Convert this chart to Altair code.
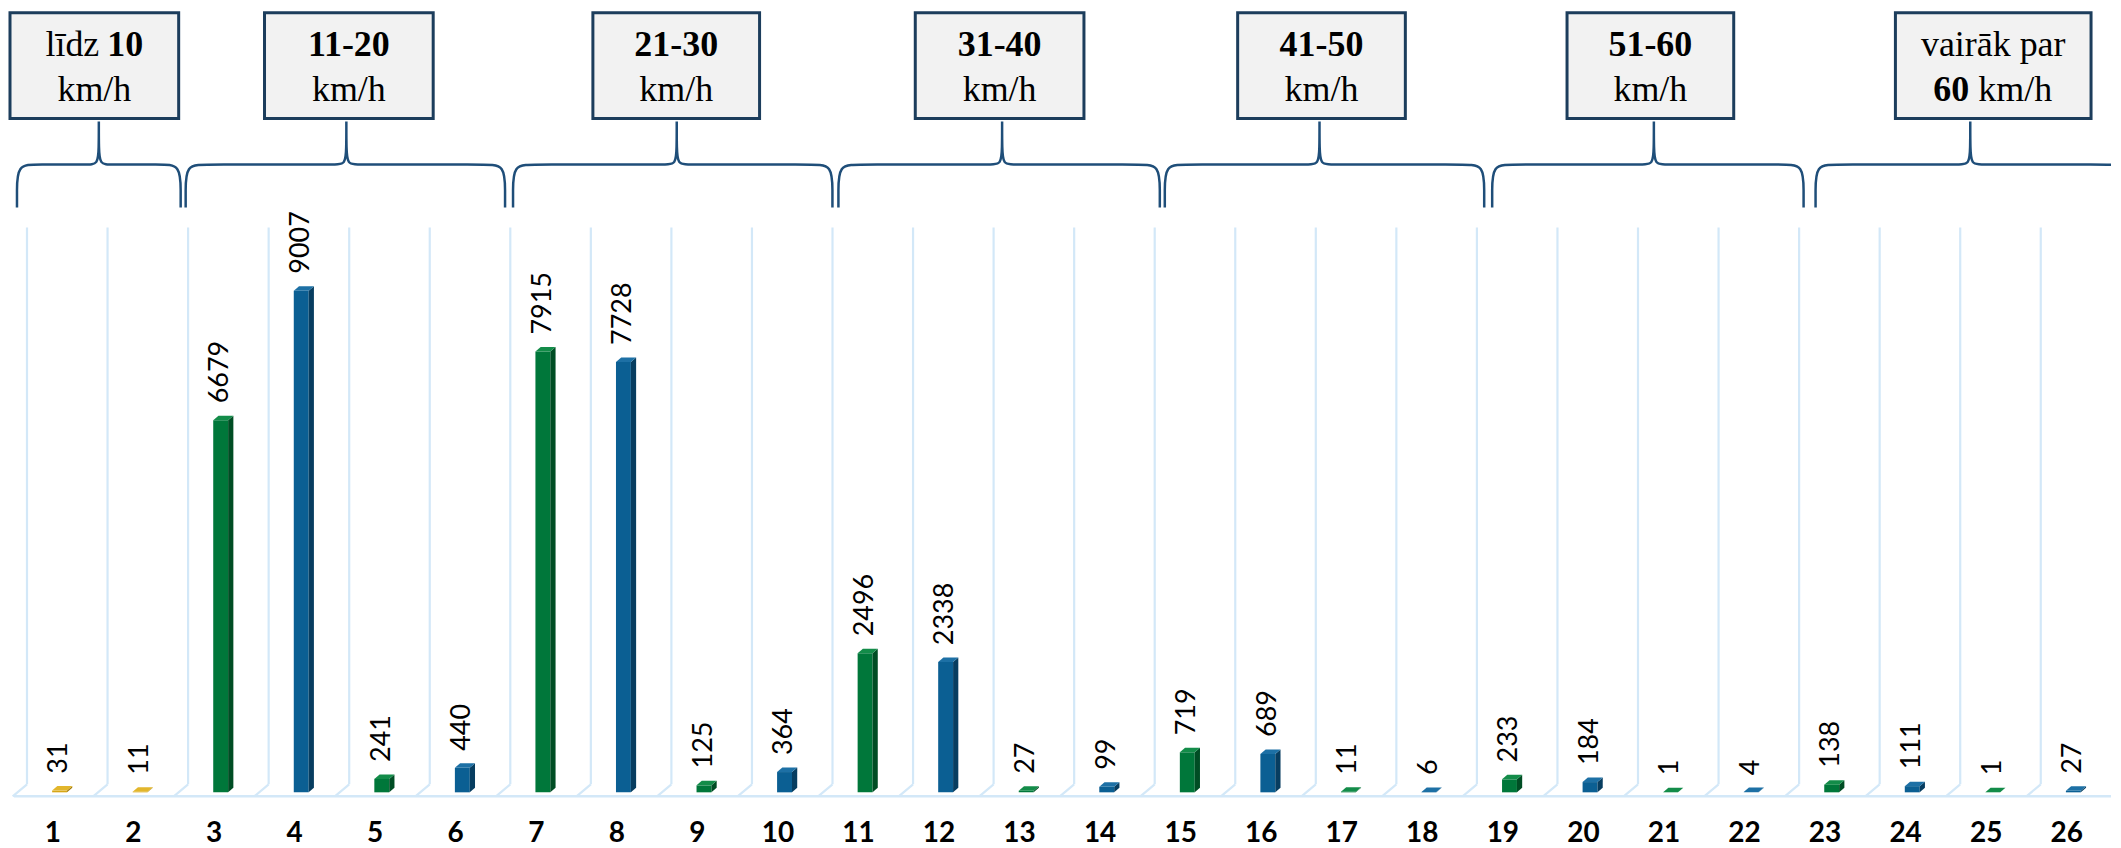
import altair as alt
import pandas as pd

# ---------------- data ----------------
categories = [str(i) for i in range(1, 27)]
values = [31, 11, 6679, 9007, 241, 440, 7915, 7728, 125, 364, 2496, 2338,
          27, 99, 719, 689, 11, 6, 233, 184, 1, 4, 138, 111, 1, 27]
series = ["gold", "gold"] + ["green", "blue"] * 12

# header boxes: (line 1 pieces, line 2 pieces); each piece = (text, bold)
header_lines = [
    ([("līdz", False), ("10", True)], [("km/h", False)]),
    ([("11-20", True)], [("km/h", False)]),
    ([("21-30", True)], [("km/h", False)]),
    ([("31-40", True)], [("km/h", False)]),
    ([("41-50", True)], [("km/h", False)]),
    ([("51-60", True)], [("km/h", False)]),
    ([("vairāk par", False)], [("60", True), ("km/h", False)]),
]

# ---------------- styles ----------------
FRONT = {"gold": "#d6a616", "green": "#00773a", "blue": "#0b5f93"}
SIDE = {"gold": "#a27b0c", "green": "#004d24", "blue": "#073d60"}
TOP = {"gold": "#e2b62c", "green": "#138c49", "blue": "#1d70a5"}
GRID = "#d3e8f8"
BRACE = "#1f4e79"
BOXSTROKE = "#1c3d5c"
LABEL_FONT = "Century Gothic, Lato, Open Sans, sans-serif"
SERIF = "Liberation Serif, Times New Roman, serif"

# ---------------- layout (page pixels -> data units) ----------------
W, H = 2105, 832
X0, X1 = 0.467, 26.55
Y0, Y1 = -842.0, 14068.0
RX = W / (X1 - X0)
RY = H / (Y1 - Y0)


def u(px):
    return X0 + (px - 8) / RX


def v(py):
    return Y1 - (py - 8) / RY


xs = alt.Scale(domain=[X0, X1], nice=False, zero=False)
ys = alt.Scale(domain=[Y0, Y1], nice=False, zero=False)


def X(f):
    return alt.X(f, type="quantitative", scale=xs, axis=None)


def Y(f):
    return alt.Y(f, type="quantitative", scale=ys, axis=None)


BL, BR, S = -0.01, 0.175, 0.065
D = 4.5 / RY
GAP = 17 / RY

# ---------------- bars ----------------
front_rows, side_rows, top_rows, lab_rows, xl_rows = [], [], [], [], []
for idx, (cat, val, ser) in enumerate(zip(categories, values, series)):
    i = idx + 1
    front_rows.append({"x": i + BL, "x2": i + BR, "y": 0, "y2": val, "col": FRONT[ser]})
    side_rows += [
        {"id": i, "x": i + BR, "y": 0, "y2": val, "col": SIDE[ser]},
        {"id": i, "x": i + BR + S, "y": D, "y2": val + D, "col": SIDE[ser]},
    ]
    top_rows += [
        {"id": i, "x": i + BL, "y": val, "y2": val, "col": TOP[ser]},
        {"id": i, "x": i + BL + S, "y": val, "y2": val + D, "col": TOP[ser]},
        {"id": i, "x": i + BR, "y": val, "y2": val + D, "col": TOP[ser]},
        {"id": i, "x": i + BR + S, "y": val + D, "y2": val + D, "col": TOP[ser]},
    ]
    lab_rows.append({"x": i + 0.08, "y": val + GAP, "t": str(val)})
    xl_rows.append({"x": i, "y": v(835), "t": cat})

front_df = pd.DataFrame(front_rows)
side_df = pd.DataFrame(side_rows)
top_df = pd.DataFrame(top_rows)
lab_df = pd.DataFrame(lab_rows)
xl_df = pd.DataFrame(xl_rows)

# ---------------- grid (3D wall + floor) ----------------
grid_rows = []
for k in range(0, 26):
    grid_rows.append({"bx": k + 0.678, "fx": k + 0.5, "yb": v(785), "yt": v(227), "yf": v(797)})
grid_df = pd.DataFrame(grid_rows)
floor_df = pd.DataFrame([{"x": u(12), "x2": X1, "y": v(797)}])

# ---------------- header boxes and braces ----------------
box_left_px = [8, 263, 592, 915, 1238, 1568, 1897]
box_right_px = [177, 432, 759, 1084, 1406, 1735, 2093]
brace_left_px = [15, 184, 512, 838, 1165, 1493, 1817]
brace_tip_px = [97, 345, 676, 1002, 1320, 1655, 1972]
brace_right_px = [179, 504, 832, 1160, 1485, 1805, 2130]

box_df = pd.DataFrame([
    {"x": u(l), "x2": u(r), "y": v(118), "y2": v(12)}
    for l, r in zip(box_left_px, box_right_px)
])

piece_offsets = {  # (group, line) -> list of (align, px offset from box centre)
    (0, 1): [("right", 5), ("left", 13)],
    (6, 2): [("right", -24), ("left", -15)],
}
text_rows = []
for g, (l1, l2) in enumerate(header_lines):
    cx = (box_left_px[g] + box_right_px[g]) / 2
    for ln, pieces, base in ((1, l1, 55), (2, l2, 100)):
        offs = piece_offsets.get((g, ln), [("center", 0)] * len(pieces))
        for (txt, bold), (al, off) in zip(pieces, offs):
            text_rows.append({"x": u(cx + off), "y": v(base), "t": txt,
                              "bold": bold, "align": al})
text_df = pd.DataFrame(text_rows)

brace_rows = []
YH, YE, YT = 164, 207, 121
for b, (xl, tip, xr) in enumerate(zip(brace_left_px, brace_tip_px, brace_right_px)):
    pts = [(xl, YE), (xl, 192), (xl, YH), (xl + 20, YH), (tip - 11, YH), (tip - 1, YH),
           (tip, 148), (tip, YT), (tip, YT), (tip, YT), (tip, 148), (tip + 1, YH),
           (tip + 11, YH), (xr - 20, YH), (xr, YH), (xr, 192), (xr, YE)]
    for o, (px, py) in enumerate(pts):
        brace_rows.append({"b": b, "o": o, "x": u(px), "y": v(py)})
brace_df = pd.DataFrame(brace_rows)

# ---------------- layers ----------------
layers = []
layers.append(alt.Chart(grid_df).mark_rule(color=GRID, strokeWidth=2.2).encode(
    x=X("bx"), y=Y("yb"), y2="yt"))
layers.append(alt.Chart(grid_df).mark_rule(color=GRID, strokeWidth=2.2).encode(
    x=X("bx"), y=Y("yb"), x2="fx", y2="yf"))
layers.append(alt.Chart(floor_df).mark_rule(color=GRID, strokeWidth=2.5).encode(
    x=X("x"), x2="x2", y=Y("y")))

layers.append(alt.Chart(front_df).mark_rect().encode(
    x=X("x"), x2="x2", y=Y("y"), y2="y2", color=alt.Color("col:N", scale=None)))
layers.append(alt.Chart(side_df).mark_area(orient="vertical").encode(
    x=X("x"), y=Y("y"), y2="y2", detail="id:N", color=alt.Color("col:N", scale=None)))
layers.append(alt.Chart(top_df).mark_area(orient="vertical").encode(
    x=X("x"), y=Y("y"), y2="y2", detail="id:N", color=alt.Color("col:N", scale=None)))

layers.append(alt.Chart(lab_df).mark_text(
    angle=270, align="left", baseline="middle", font=LABEL_FONT, fontSize=27,
    color="#000000").encode(x=X("x"), y=Y("y"), text="t:N"))
layers.append(alt.Chart(xl_df).mark_text(
    align="center", baseline="middle", font=LABEL_FONT, fontSize=28,
    fontWeight="bold", color="#000000").encode(x=X("x"), y=Y("y"), text="t:N"))

layers.append(alt.Chart(brace_df).mark_line(
    color=BRACE, strokeWidth=2.5, interpolate="basis", clip=True).encode(
    x=X("x"), y=Y("y"), detail="b:N", order="o:Q"))
layers.append(alt.Chart(box_df).mark_rect(
    fill="#f2f2f2", stroke=BOXSTROKE, strokeWidth=3).encode(
    x=X("x"), x2="x2", y=Y("y"), y2="y2"))

for bold in (False, True):
    for al in ("left", "center", "right"):
        sub = text_df[(text_df["bold"] == bold) & (text_df["align"] == al)]
        if len(sub) == 0:
            continue
        layers.append(alt.Chart(sub).mark_text(
            align=al, baseline="alphabetic", font=SERIF, fontSize=36,
            fontWeight="bold" if bold else "normal", color="#000000").encode(
            x=X("x"), y=Y("y"), text="t:N"))

chart = alt.layer(*layers).properties(
    width=W, height=H, padding=0, background="white"
).configure_view(strokeWidth=0)

chart.save("out.html", embed_options={"renderer": "svg", "actions": False})
